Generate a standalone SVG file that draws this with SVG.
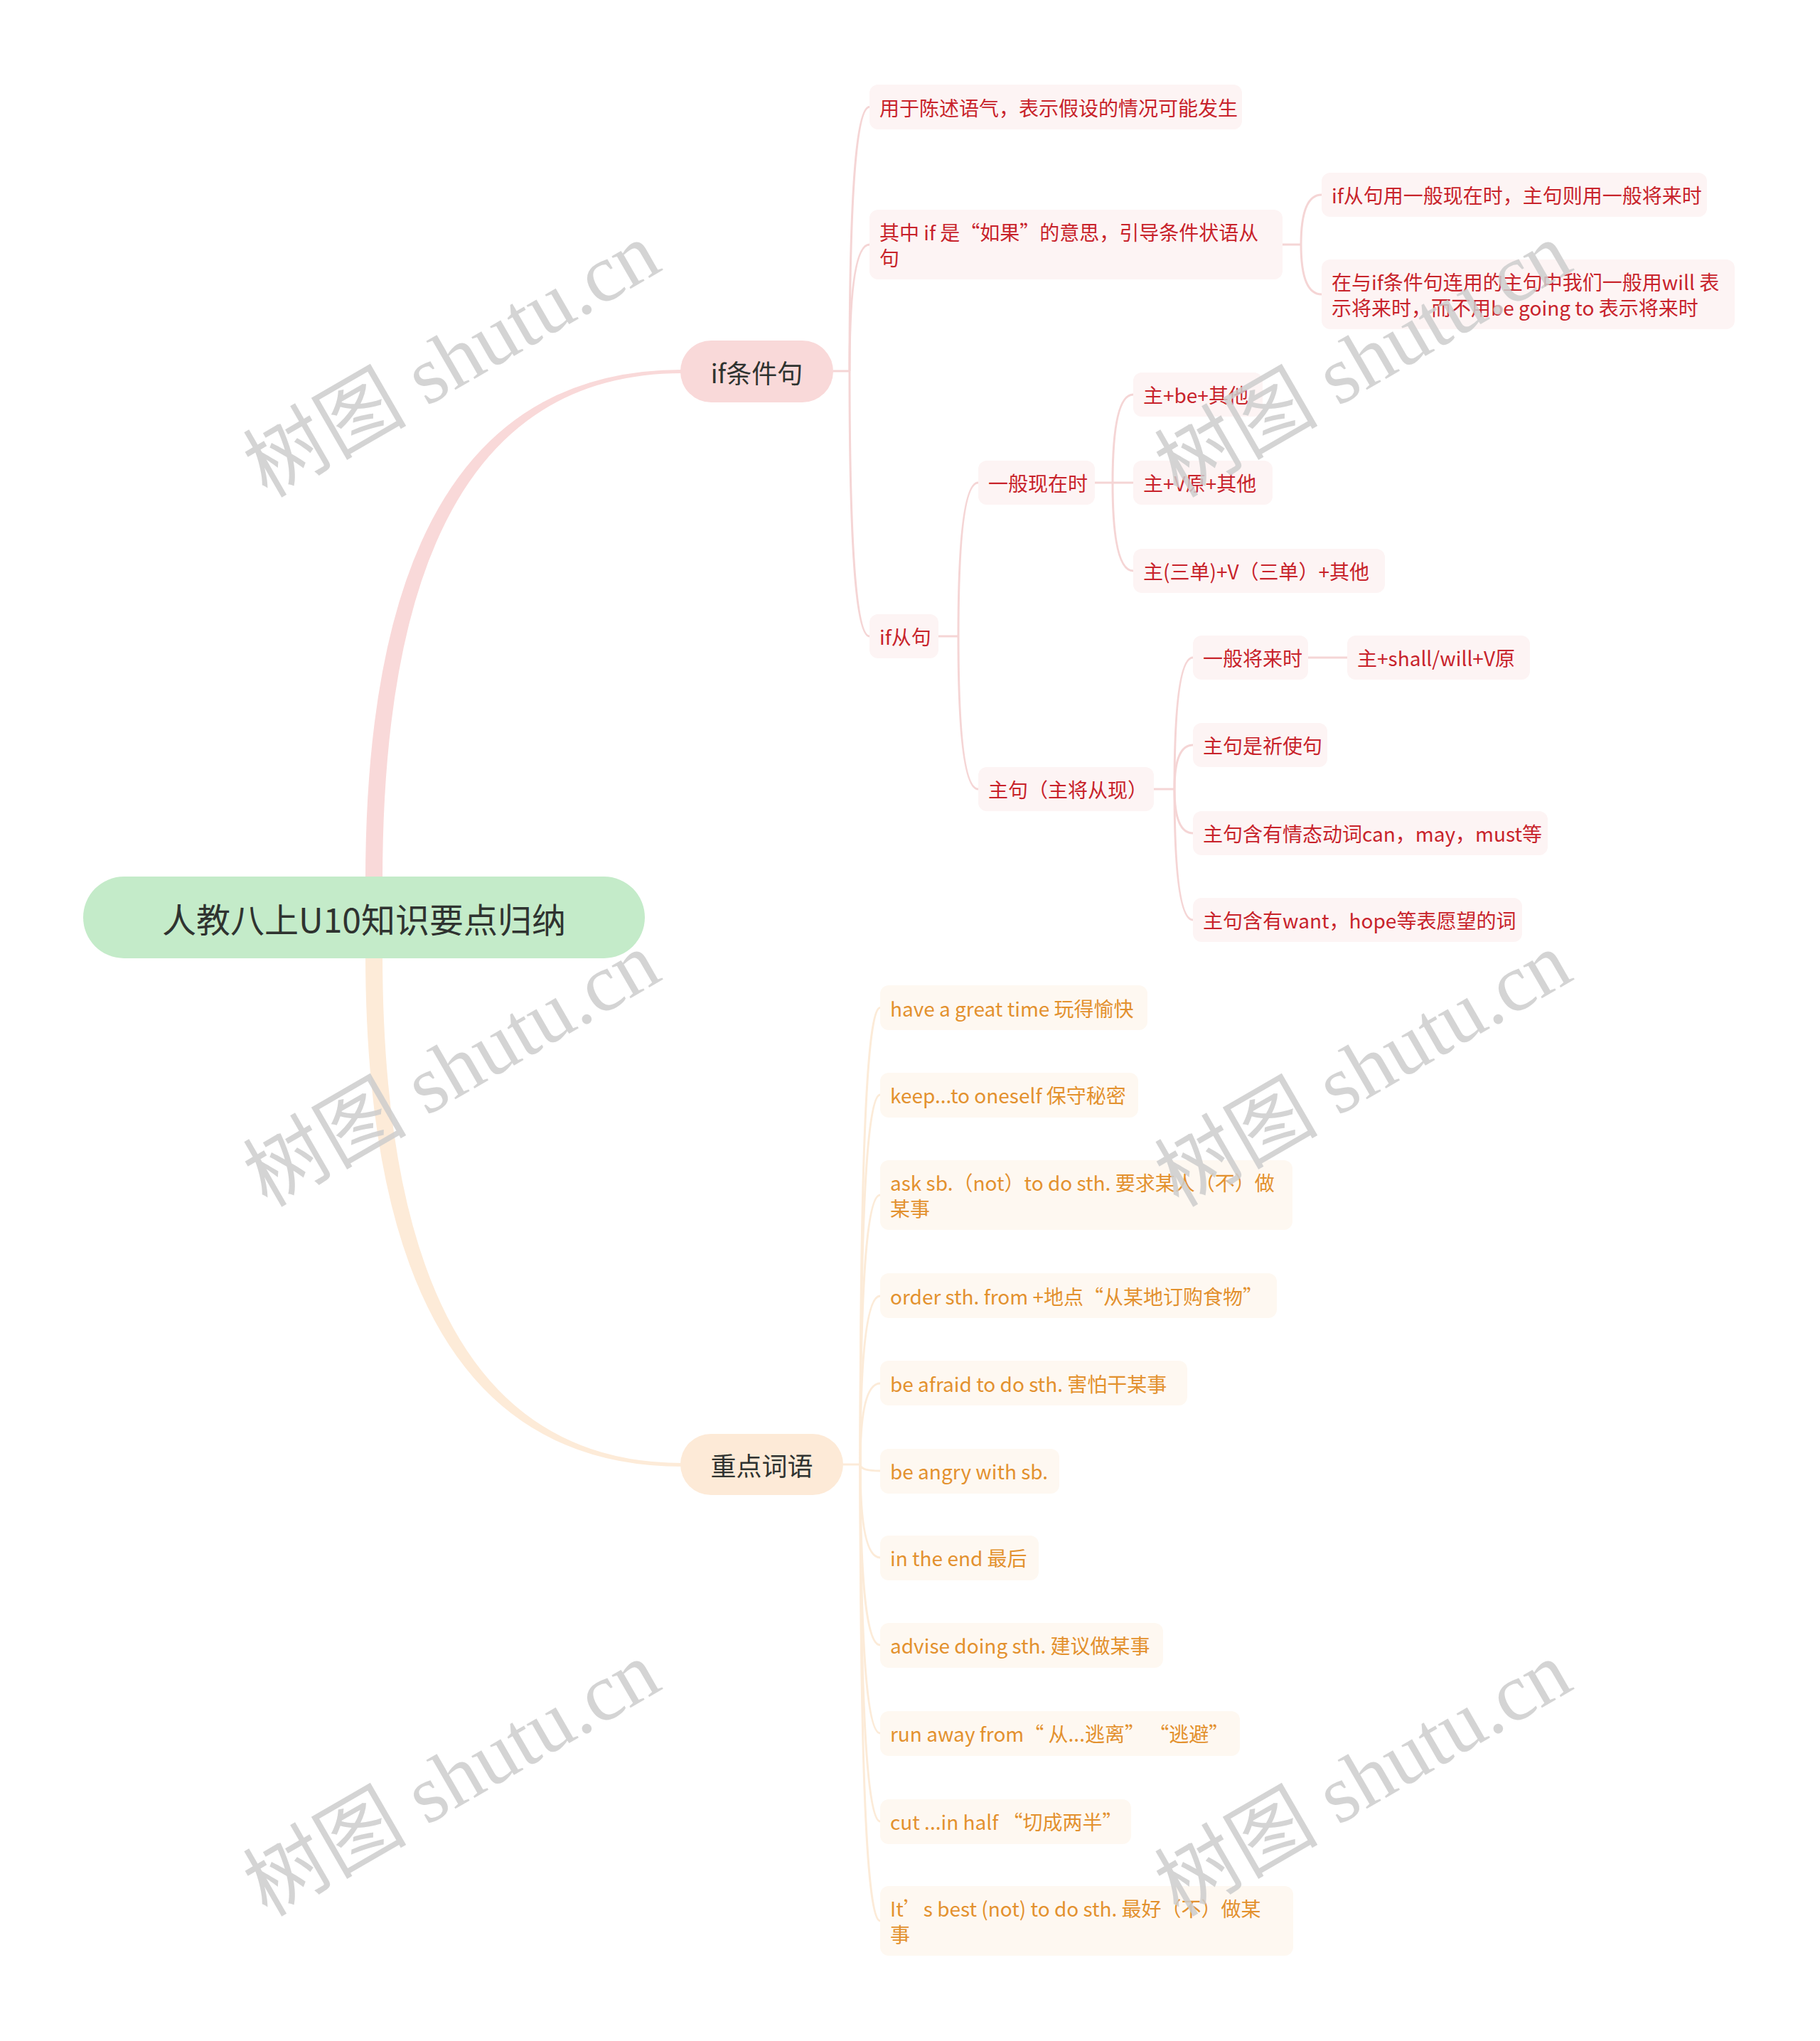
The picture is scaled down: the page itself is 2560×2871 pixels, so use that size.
<svg xmlns="http://www.w3.org/2000/svg" width="2560" height="2871" viewBox="0 0 2560 2871">
<style>
text{font-family:"Noto Sans CJK SC","Noto Sans",sans-serif;}
.root{fill:#c4ebc9;}
.rt{font-size:48px;fill:#2f3330;}
.m1{fill:#f9d9d9;}
.m2{fill:#fdead7;}
.mt{font-size:36px;fill:#2f3330;}
.rn{fill:#fdf4f4;}
.on{fill:#fef8f1;}
.r{font-size:28px;fill:#c8232b;}
.o{font-size:28px;fill:#e3912e;}
.cr{fill:none;stroke:#f5d5d5;stroke-width:3;}
.co{fill:none;stroke:#fcebd8;stroke-width:3;}
.wm{font-family:"Liberation Serif","Noto Sans CJK SC",serif;font-size:115px;fill:#cdcdcd;fill-opacity:.85;}
</style>
<rect width="2560" height="2871" fill="#ffffff"/>

<g id="connectors">
  <path d="M514 1240 Q514 520 960 520 L960 525 Q538 525 538 1240 Z" fill="#f9d9d9"/>
  <path d="M514 1340 Q514 2063 960 2063 L960 2058 Q538 2058 538 1340 Z" fill="#fdebd8"/>
  <!-- if条件句 children -->
  <path class="cr" d="M1172 522 H1195"/>
  <path class="cr" d="M1195 522 Q1195 150.5 1223 150.5"/>
  <path class="cr" d="M1195 522 Q1195 344 1223 344"/>
  <path class="cr" d="M1195 522 Q1195 895 1223 895"/>
  <!-- 其中 children -->
  <path class="cr" d="M1804 344 H1830"/>
  <path class="cr" d="M1830 344 Q1830 274 1859 274"/>
  <path class="cr" d="M1830 344 Q1830 414 1859 414"/>
  <!-- if从句 children -->
  <path class="cr" d="M1320 895 H1348"/>
  <path class="cr" d="M1348 895 Q1348 679 1376 679"/>
  <path class="cr" d="M1348 895 Q1348 1110 1376 1110"/>
  <!-- 一般现在时 children -->
  <path class="cr" d="M1540 679 H1565"/>
  <path class="cr" d="M1565 679 Q1565 555 1594 555"/>
  <path class="cr" d="M1565 679 H1594"/>
  <path class="cr" d="M1565 679 Q1565 803 1594 803"/>
  <!-- 主句 children -->
  <path class="cr" d="M1623 1110 H1652"/>
  <path class="cr" d="M1652 1110 Q1652 925 1678 925"/>
  <path class="cr" d="M1652 1110 Q1652 1048 1678 1048"/>
  <path class="cr" d="M1652 1110 Q1652 1172 1678 1172"/>
  <path class="cr" d="M1652 1110 Q1652 1294 1678 1294"/>
  <path class="cr" d="M1840 925 H1895"/>
  <!-- 重点词语 children -->
  <path class="co" d="M1186 2060 H1210"/>
  <path class="co" d="M1210 2060 Q1210 1417.5 1238 1417.5"/>
  <path class="co" d="M1210 2060 Q1210 1540 1238 1540"/>
  <path class="co" d="M1210 2060 Q1210 1681 1238 1681"/>
  <path class="co" d="M1210 2060 Q1210 1823 1238 1823"/>
  <path class="co" d="M1210 2060 Q1210 1946 1238 1946"/>
  <path class="co" d="M1210 2060 Q1210 2069 1238 2069"/>
  <path class="co" d="M1210 2060 Q1210 2191 1238 2191"/>
  <path class="co" d="M1210 2060 Q1210 2314 1238 2314"/>
  <path class="co" d="M1210 2060 Q1210 2438 1238 2438"/>
  <path class="co" d="M1210 2060 Q1210 2562 1238 2562"/>
  <path class="co" d="M1210 2060 Q1210 2702 1238 2702"/>
</g>

<g id="root">
  <rect class="root" x="117" y="1233" width="790" height="115" rx="57.5"/>
  <text class="rt" x="512" y="1291" text-anchor="middle" dominant-baseline="central">人教八上U10知识要点归纳</text>
</g>

<g id="n-if">
  <rect class="m1" x="957" y="479" width="215" height="87" rx="43.5"/>
  <text class="mt" x="1064.5" y="522.5" text-anchor="middle" dominant-baseline="central">if条件句</text>
</g>
<g id="n-vocab">
  <rect class="m2" x="957" y="2017" width="229" height="86" rx="43"/>
  <text class="mt" x="1071.5" y="2060" text-anchor="middle" dominant-baseline="central">重点词语</text>
</g>

<g id="n-a">
  <rect class="rn" x="1223" y="119" width="524" height="63" rx="12"/>
  <text class="r" x="1237" y="150.5" dominant-baseline="central">用于陈述语气，表示假设的情况可能发生</text>
</g>
<g id="n-b">
  <rect class="rn" x="1223" y="295" width="581" height="98" rx="12"/>
  <text class="r" x="1237" y="326" dominant-baseline="central">其中 if 是“如果”的意思，引导条件状语从</text>
  <text class="r" x="1237" y="362" dominant-baseline="central">句</text>
</g>
<g id="n-b1">
  <rect class="rn" x="1859" y="243" width="542" height="62" rx="12"/>
  <text class="r" x="1873" y="274" dominant-baseline="central">if从句用一般现在时，主句则用一般将来时</text>
</g>
<g id="n-b2">
  <rect class="rn" x="1859" y="365" width="581" height="98" rx="12"/>
  <text class="r" x="1873" y="396" dominant-baseline="central">在与if条件句连用的主句中我们一般用will 表</text>
  <text class="r" x="1873" y="432" dominant-baseline="central">示将来时，而不用be going to 表示将来时</text>
</g>
<g id="n-c">
  <rect class="rn" x="1223" y="864" width="97" height="62" rx="12"/>
  <text class="r" x="1237" y="895" dominant-baseline="central">if从句</text>
</g>
<g id="n-c1">
  <rect class="rn" x="1376" y="648" width="164" height="62" rx="12"/>
  <text class="r" x="1390" y="679" dominant-baseline="central">一般现在时</text>
</g>
<g id="n-c1a">
  <rect class="rn" x="1594" y="524" width="182" height="62" rx="12"/>
  <text class="r" x="1608" y="555" dominant-baseline="central">主+be+其他</text>
</g>
<g id="n-c1b">
  <rect class="rn" x="1594" y="648" width="196" height="62" rx="12"/>
  <text class="r" x="1608" y="679" dominant-baseline="central">主+V原+其他</text>
</g>
<g id="n-c1c">
  <rect class="rn" x="1594" y="772" width="354" height="62" rx="12"/>
  <text class="r" x="1608" y="803" dominant-baseline="central">主(三单)+V（三单）+其他</text>
</g>
<g id="n-c2">
  <rect class="rn" x="1376" y="1079" width="247" height="62" rx="12"/>
  <text class="r" x="1390" y="1110" dominant-baseline="central">主句（主将从现）</text>
</g>
<g id="n-c2a">
  <rect class="rn" x="1678" y="894" width="162" height="62" rx="12"/>
  <text class="r" x="1692" y="925" dominant-baseline="central">一般将来时</text>
</g>
<g id="n-c2a1">
  <rect class="rn" x="1895" y="894" width="257" height="62" rx="12"/>
  <text class="r" x="1909" y="925" dominant-baseline="central">主+shall/will+V原</text>
</g>
<g id="n-c2b">
  <rect class="rn" x="1678" y="1017" width="189" height="62" rx="12"/>
  <text class="r" x="1692" y="1048" dominant-baseline="central">主句是祈使句</text>
</g>
<g id="n-c2c">
  <rect class="rn" x="1678" y="1141" width="499" height="62" rx="12"/>
  <text class="r" x="1692" y="1172" dominant-baseline="central">主句含有情态动词can，may，must等</text>
</g>
<g id="n-c2d">
  <rect class="rn" x="1678" y="1263" width="463" height="62" rx="12"/>
  <text class="r" x="1692" y="1294" dominant-baseline="central">主句含有want，hope等表愿望的词</text>
</g>

<g id="o1">
  <rect class="on" x="1238" y="1386" width="376" height="63" rx="12"/>
  <text class="o" x="1252" y="1417.5" dominant-baseline="central">have a great time 玩得愉快</text>
</g>
<g id="o2">
  <rect class="on" x="1238" y="1509" width="363" height="63" rx="12"/>
  <text class="o" x="1252" y="1540" dominant-baseline="central">keep...to oneself 保守秘密</text>
</g>
<g id="o3">
  <rect class="on" x="1238" y="1632" width="580" height="98" rx="12"/>
  <text class="o" x="1252" y="1663" dominant-baseline="central">ask sb.（not）to do sth. 要求某人（不）做</text>
  <text class="o" x="1252" y="1699" dominant-baseline="central">某事</text>
</g>
<g id="o4">
  <rect class="on" x="1238" y="1791" width="558" height="63" rx="12"/>
  <text class="o" x="1252" y="1823" dominant-baseline="central">order sth. from +地点“从某地订购食物”</text>
</g>
<g id="o5">
  <rect class="on" x="1238" y="1914" width="432" height="63" rx="12"/>
  <text class="o" x="1252" y="1946" dominant-baseline="central">be afraid to do sth. 害怕干某事</text>
</g>
<g id="o6">
  <rect class="on" x="1238" y="2038" width="252" height="63" rx="12"/>
  <text class="o" x="1252" y="2069" dominant-baseline="central">be angry with sb.</text>
</g>
<g id="o7">
  <rect class="on" x="1238" y="2160" width="223" height="63" rx="12"/>
  <text class="o" x="1252" y="2191" dominant-baseline="central">in the end 最后</text>
</g>
<g id="o8">
  <rect class="on" x="1238" y="2283" width="398" height="63" rx="12"/>
  <text class="o" x="1252" y="2314" dominant-baseline="central">advise doing sth. 建议做某事</text>
</g>
<g id="o9">
  <rect class="on" x="1238" y="2407" width="506" height="63" rx="12"/>
  <text class="o" x="1252" y="2438" dominant-baseline="central">run away from“ 从...逃离”  “逃避”</text>
</g>
<g id="o10">
  <rect class="on" x="1238" y="2531" width="353" height="63" rx="12"/>
  <text class="o" x="1252" y="2562" dominant-baseline="central">cut ...in half “切成两半”</text>
</g>
<g id="o11">
  <rect class="on" x="1238" y="2653" width="581" height="98" rx="12"/>
  <text class="o" x="1252" y="2684" dominant-baseline="central">It’s best (not) to do sth. 最好（不）做某</text>
  <text class="o" x="1252" y="2720" dominant-baseline="central">事</text>
</g>

<g id="watermark">
  <text class="wm" text-anchor="middle" transform="translate(655 540) rotate(-30)">树图 shutu.cn</text>
  <text class="wm" text-anchor="middle" transform="translate(1937 540) rotate(-30)">树图 shutu.cn</text>
  <text class="wm" text-anchor="middle" transform="translate(655 1538) rotate(-30)">树图 shutu.cn</text>
  <text class="wm" text-anchor="middle" transform="translate(1937 1538) rotate(-30)">树图 shutu.cn</text>
  <text class="wm" text-anchor="middle" transform="translate(655 2536) rotate(-30)">树图 shutu.cn</text>
  <text class="wm" text-anchor="middle" transform="translate(1937 2536) rotate(-30)">树图 shutu.cn</text>
</g>
</svg>
